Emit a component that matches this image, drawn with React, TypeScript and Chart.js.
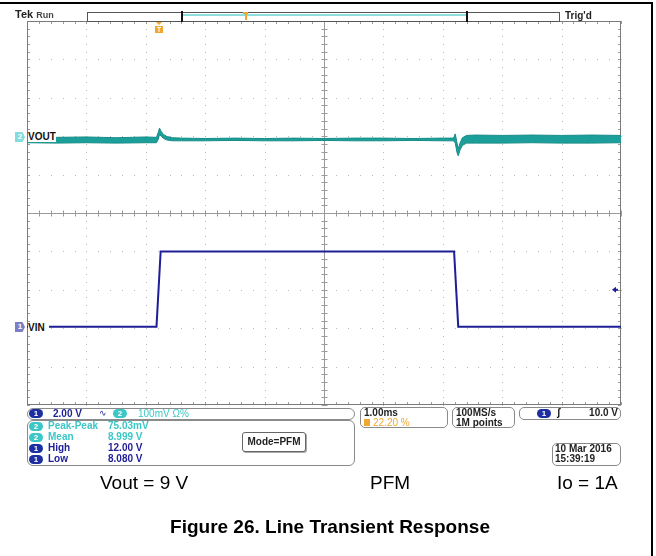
import React, { useEffect, useRef } from "react";
import { Chart, registerables } from "chart.js";

Chart.register(...registerables);

// ---- data (time in ms, 1 ms/div, 10 divisions) ----
const timeRangeMs = [0, 10];
const ch1Range = [4, 24]; // VIN axis, 2.00 V/div
const ch2Range = [8.308, 9.308]; // VOUT axis, 100 mV/div
const triggerLevelV = 10.0;
const triggerTimeMs = 2.22;

const vinTimes = [0, 2.18, 2.25, 7.19, 7.26, 10];
const vinVolts = [8.08, 8.08, 12.0, 12.0, 8.08, 8.08];

const voutTimes = [0, 0.5, 1.0, 1.5, 2.0, 2.18, 2.21, 2.23, 2.26, 2.3, 2.36, 2.45, 2.6, 3.0, 3.5, 4.0, 4.5, 5.0, 5.5, 6.0, 6.5, 7.0, 7.18, 7.21, 7.24, 7.26, 7.29, 7.33, 7.4, 7.55, 8.0, 8.5, 9.0, 9.5, 10.0];
const voutHigh = [9.006, 9.005, 9.006, 9.004, 9.006, 9.005, 9.018, 9.029, 9.02, 9.012, 9.007, 9.004, 9.003, 9.002, 9.003, 9.002, 9.003, 9.002, 9.003, 9.003, 9.002, 9.003, 9.003, 9.014, 8.99, 8.975, 8.99, 9.004, 9.01, 9.011, 9.01, 9.011, 9.01, 9.011, 9.01];
const voutLow = [8.991, 8.990, 8.991, 8.990, 8.991, 8.991, 9.0, 9.012, 9.008, 9.002, 8.998, 8.996, 8.996, 8.996, 8.997, 8.996, 8.996, 8.997, 8.996, 8.996, 8.997, 8.996, 8.996, 8.99, 8.965, 8.957, 8.972, 8.984, 8.99, 8.99, 8.99, 8.991, 8.99, 8.99, 8.991];

const NAVY = "#1e1e96";
const TEAL = "#1c9f9a";
const CYAN_TXT = "#3cc6c6";
const ORANGE = "#f0a830";
const GRID = "#b8b8b8";

const graticule = {
  id: "graticule",
  beforeDatasetsDraw(chart: any) {
    const { ctx, chartArea: a, scales } = chart;
    const xs = scales.x;
    const ys = scales.y1;
    ctx.save();
    // dotted grid
    ctx.fillStyle = GRID;
    for (let i = 1; i < 10; i++) {
      if (i === 5) continue;
      const x = Math.round(xs.getPixelForValue(i));
      for (let k = 0; k <= 50; k++) {
        const y = ys.getPixelForValue(ch1Range[0] + (k * (ch1Range[1] - ch1Range[0])) / 50);
        ctx.fillRect(x, Math.round(y), 1, 1);
      }
    }
    for (let j = 1; j < 10; j++) {
      if (j === 5) continue;
      const y = Math.round(ys.getPixelForValue(ch1Range[0] + j * 2));
      for (let k = 0; k <= 50; k++) {
        const x = xs.getPixelForValue((k * 10) / 50);
        ctx.fillRect(Math.round(x), y, 1, 1);
      }
    }
    // center cross and edges with minor ticks
    ctx.strokeStyle = "#9a9a9a";
    ctx.lineWidth = 1;
    const cx = Math.round(xs.getPixelForValue(5)) + 0.5;
    const cy = Math.round(ys.getPixelForValue((ch1Range[0] + ch1Range[1]) / 2)) + 0.5;
    ctx.beginPath();
    ctx.moveTo(a.left, cy); ctx.lineTo(a.right, cy);
    ctx.moveTo(cx, a.top); ctx.lineTo(cx, a.bottom);
    ctx.stroke();
    ctx.beginPath();
    for (let k = 0; k <= 50; k++) {
      const x = Math.round(xs.getPixelForValue((k * 10) / 50)) + 0.5;
      ctx.moveTo(x, cy - 3); ctx.lineTo(x, cy + 3);
      ctx.moveTo(x, a.top); ctx.lineTo(x, a.top + 3);
      ctx.moveTo(x, a.bottom); ctx.lineTo(x, a.bottom - 3);
      const y = Math.round(ys.getPixelForValue(ch1Range[0] + (k * 20) / 50)) + 0.5;
      ctx.moveTo(cx - 3, y); ctx.lineTo(cx + 3, y);
      ctx.moveTo(a.left, y); ctx.lineTo(a.left + 3, y);
      ctx.moveTo(a.right, y); ctx.lineTo(a.right - 3, y);
    }
    ctx.stroke();
    ctx.strokeStyle = "#7a7a7a";
    ctx.strokeRect(a.left + 0.5, a.top + 0.5, a.right - a.left - 1, a.bottom - a.top - 1);
    ctx.restore();
  },
  afterDatasetsDraw(chart: any) {
    const { ctx, chartArea: a, scales } = chart;
    ctx.save();
    // trigger level arrow (right edge)
    const ty = scales.y1.getPixelForValue(triggerLevelV);
    const rx = a.right - 6;
    ctx.fillStyle = NAVY;
    ctx.beginPath();
    ctx.moveTo(rx - 3, ty); ctx.lineTo(rx + 1, ty - 3); ctx.lineTo(rx + 1, ty + 3); ctx.closePath();
    ctx.fill();
    ctx.fillRect(rx + 1, ty - 1, 2, 2);
    // trigger position marker (top)
    const tx = Math.round(scales.x.getPixelForValue(triggerTimeMs));
    ctx.fillStyle = ORANGE;
    ctx.beginPath();
    ctx.moveTo(tx - 3, a.top + 1); ctx.lineTo(tx + 3, a.top + 1); ctx.lineTo(tx, a.top + 4); ctx.closePath();
    ctx.fill();
    ctx.fillRect(tx - 4, a.top + 5, 8, 7);
    ctx.fillStyle = "#fff";
    ctx.fillRect(tx - 2, a.top + 6, 4, 1);
    ctx.fillRect(tx - 0.5, a.top + 6, 1, 5);
    ctx.restore();
  },
};

function Box({ l, t, w, h, r = 5, children, style }: any) {
  return (
    <div style={{ position: "absolute", left: l, top: t, width: w, height: h, border: "1px solid #8a8a8a", borderRadius: r, boxSizing: "border-box", background: "#fff", ...style }}>
      {children}
    </div>
  );
}

function Txt({ x, y, color = "#111", size = 10, bold = true, children, style }: any) {
  return (
    <div style={{ position: "absolute", left: x, top: y, color, fontSize: size, lineHeight: size + "px", fontWeight: bold ? 700 : 400, whiteSpace: "nowrap", fontFamily: "'Liberation Sans', Arial, sans-serif", ...style }}>
      {children}
    </div>
  );
}

function Pill({ x, y, bg, label }: any) {
  return (
    <div style={{ position: "absolute", left: x, top: y, width: 14, height: 9, borderRadius: 5, background: bg, color: "#fff", fontSize: 8, lineHeight: "9px", textAlign: "center", fontWeight: 700, fontFamily: "'Liberation Sans', Arial, sans-serif" }}>
      {label}
    </div>
  );
}

export default function App() {
  const ref = useRef<HTMLCanvasElement>(null);
  useEffect(() => {
    const chart = new Chart(ref.current as HTMLCanvasElement, {
      type: "line",
      data: {
        datasets: [
          {
            label: "VOUT high",
            data: voutTimes.map((t, i) => ({ x: t, y: voutHigh[i] })),
            yAxisID: "y2",
            borderColor: "#178c87",
            borderWidth: 1,
            pointRadius: 0,
            fill: false,
          },
          {
            label: "VOUT low",
            data: voutTimes.map((t, i) => ({ x: t, y: voutLow[i] })),
            yAxisID: "y2",
            borderColor: "#178c87",
            backgroundColor: TEAL,
            borderWidth: 1,
            pointRadius: 0,
            fill: "-1",
          },
          {
            label: "VIN",
            data: vinTimes.map((t, i) => ({ x: t, y: vinVolts[i] })),
            yAxisID: "y1",
            borderColor: NAVY,
            borderWidth: 2,
            pointRadius: 0,
            fill: false,
          },
        ],
      },
      options: {
        animation: false,
        responsive: false,
        devicePixelRatio: 1,
        layout: { padding: { left: 27, top: 21, right: 35, bottom: 151 } },
        plugins: { legend: { display: false }, tooltip: { enabled: false }, filler: { propagate: false } },
        scales: {
          x: { type: "linear", min: timeRangeMs[0], max: timeRangeMs[1], display: false },
          y1: { type: "linear", min: ch1Range[0], max: ch1Range[1], display: false },
          y2: { type: "linear", min: ch2Range[0], max: ch2Range[1], display: false },
        },
      },
      plugins: [graticule],
    });
    return () => chart.destroy();
  }, []);

  return (
    <div style={{ position: "fixed", left: 0, top: 0, width: 656, height: 556, background: "#fff", overflow: "hidden" }}>
      <canvas ref={ref} width={656} height={556} style={{ position: "absolute", left: 0, top: 0 }} />
      {/* frame */}
      <div style={{ position: "absolute", left: 0, top: 2, width: 653, height: 2, background: "#000" }} />
      <div style={{ position: "absolute", left: 651, top: 2, width: 2, height: 554, background: "#000" }} />

      {/* header */}
      <Txt x={15} y={9} size={11} color="#222"><span style={{ fontWeight: 700 }}>Tek</span> <span style={{ fontWeight: 700, fontSize: 9, color: "#444" }}>Run</span></Txt>
      <div style={{ position: "absolute", left: 87, top: 12, width: 473, height: 10, border: "1px solid #555", boxSizing: "border-box", background: "#fff" }} />
      <div style={{ position: "absolute", left: 182, top: 14, width: 285, height: 2, background: "#8fdede" }} />
      <div style={{ position: "absolute", left: 181, top: 11, width: 2, height: 11, background: "#111" }} />
      <div style={{ position: "absolute", left: 466, top: 11, width: 2, height: 11, background: "#111" }} />
      <div style={{ position: "absolute", left: 243, top: 12, width: 5, height: 2, background: ORANGE }} />
      <div style={{ position: "absolute", left: 245, top: 12, width: 2, height: 8, background: ORANGE }} />
      <Txt x={565} y={11} size={10} color="#222">Trig'd</Txt>

      {/* channel labels */}
      <div style={{ position: "absolute", left: 15, top: 132, width: 10, height: 10, background: "#86dcdc", color: "#fff", fontSize: 8, lineHeight: "10px", textAlign: "center", fontWeight: 700, fontFamily: "'Liberation Sans', Arial", clipPath: "polygon(0 0, 75% 0, 100% 50%, 75% 100%, 0 100%)" }}>2</div>
      <Txt x={28} y={131} size={10} color="#111" style={{ background: "#fff", width: 28, lineHeight: "11px" }}>VOUT</Txt>
      <div style={{ position: "absolute", left: 15, top: 322, width: 10, height: 10, background: "#7e7ec8", color: "#fff", fontSize: 8, lineHeight: "10px", textAlign: "center", fontWeight: 700, fontFamily: "'Liberation Sans', Arial", clipPath: "polygon(0 0, 75% 0, 100% 50%, 75% 100%, 0 100%)" }}>1</div>
      <Txt x={28} y={322} size={10} color="#111" style={{ background: "#fff", width: 21, lineHeight: "11px" }}>VIN</Txt>

      {/* lower info panels */}
      <Box l={27} t={408} w={328} h={12} r={6} />
      <Pill x={29} y={409} bg="#1d2ea0" label="1" />
      <Txt x={53} y={409} color={NAVY}>2.00 V</Txt>
      <Txt x={99} y={409} color={NAVY} size={9} bold={false}>∿</Txt>
      <Pill x={113} y={409} bg="#3cc6c6" label="2" />
      <Txt x={138} y={409} color={CYAN_TXT} bold={false}>100mV Ω%</Txt>

      <Box l={27} t={420} w={328} h={46} r={6} />
      <Pill x={29} y={422} bg="#3cc6c6" label="2" />
      <Txt x={48} y={421} color={CYAN_TXT}>Peak-Peak</Txt>
      <Txt x={108} y={421} color={CYAN_TXT}>75.03mV</Txt>
      <Pill x={29} y={433} bg="#3cc6c6" label="2" />
      <Txt x={48} y={432} color={CYAN_TXT}>Mean</Txt>
      <Txt x={108} y={432} color={CYAN_TXT}>8.999 V</Txt>
      <Pill x={29} y={444} bg="#1d2ea0" label="1" />
      <Txt x={48} y={443} color={NAVY}>High</Txt>
      <Txt x={108} y={443} color={NAVY}>12.00 V</Txt>
      <Pill x={29} y={455} bg="#1d2ea0" label="1" />
      <Txt x={48} y={454} color={NAVY}>Low</Txt>
      <Txt x={108} y={454} color={NAVY}>8.080 V</Txt>

      <Box l={242} t={432} w={64} h={20} r={3} style={{ border: "1px solid #666", boxShadow: "1px 1px 0 #aaa" }} />
      <Txt x={242} y={437} color="#222" style={{ width: 64, textAlign: "center" }}>Mode=PFM</Txt>

      <Box l={360} t={407} w={88} h={21} r={5} />
      <Txt x={364} y={408} color="#222">1.00ms</Txt>
      <div style={{ position: "absolute", left: 364, top: 419, width: 6, height: 7, background: ORANGE }} />
      <Txt x={373} y={418} color={ORANGE} bold={false}>22.20 %</Txt>

      <Box l={452} t={407} w={63} h={21} r={5} />
      <Txt x={456} y={408} color="#222">100MS/s</Txt>
      <Txt x={456} y={418} color="#222">1M points</Txt>

      <Box l={519} t={407} w={102} h={13} r={5} />
      <Pill x={537} y={409} bg="#1d2ea0" label="1" />
      <Txt x={557} y={408} color="#111" bold={true}>ʃ</Txt>
      <Txt x={580} y={408} color="#222" style={{ width: 38, textAlign: "right" }}>10.0 V</Txt>

      <Box l={552} t={443} w={69} h={23} r={5} />
      <Txt x={555} y={444} color="#222">10 Mar 2016</Txt>
      <Txt x={555} y={454} color="#222">15:39:19</Txt>

      {/* captions */}
      <Txt x={100} y={473} size={19} bold={false} color="#000">Vout = 9 V</Txt>
      <Txt x={370} y={473} size={19} bold={false} color="#000">PFM</Txt>
      <Txt x={557} y={473} size={19} bold={false} color="#000">Io = 1A</Txt>
      <Txt x={0} y={517} size={19} color="#000" style={{ width: 660, textAlign: "center" }}>Figure 26. Line Transient Response</Txt>
    </div>
  );
}
